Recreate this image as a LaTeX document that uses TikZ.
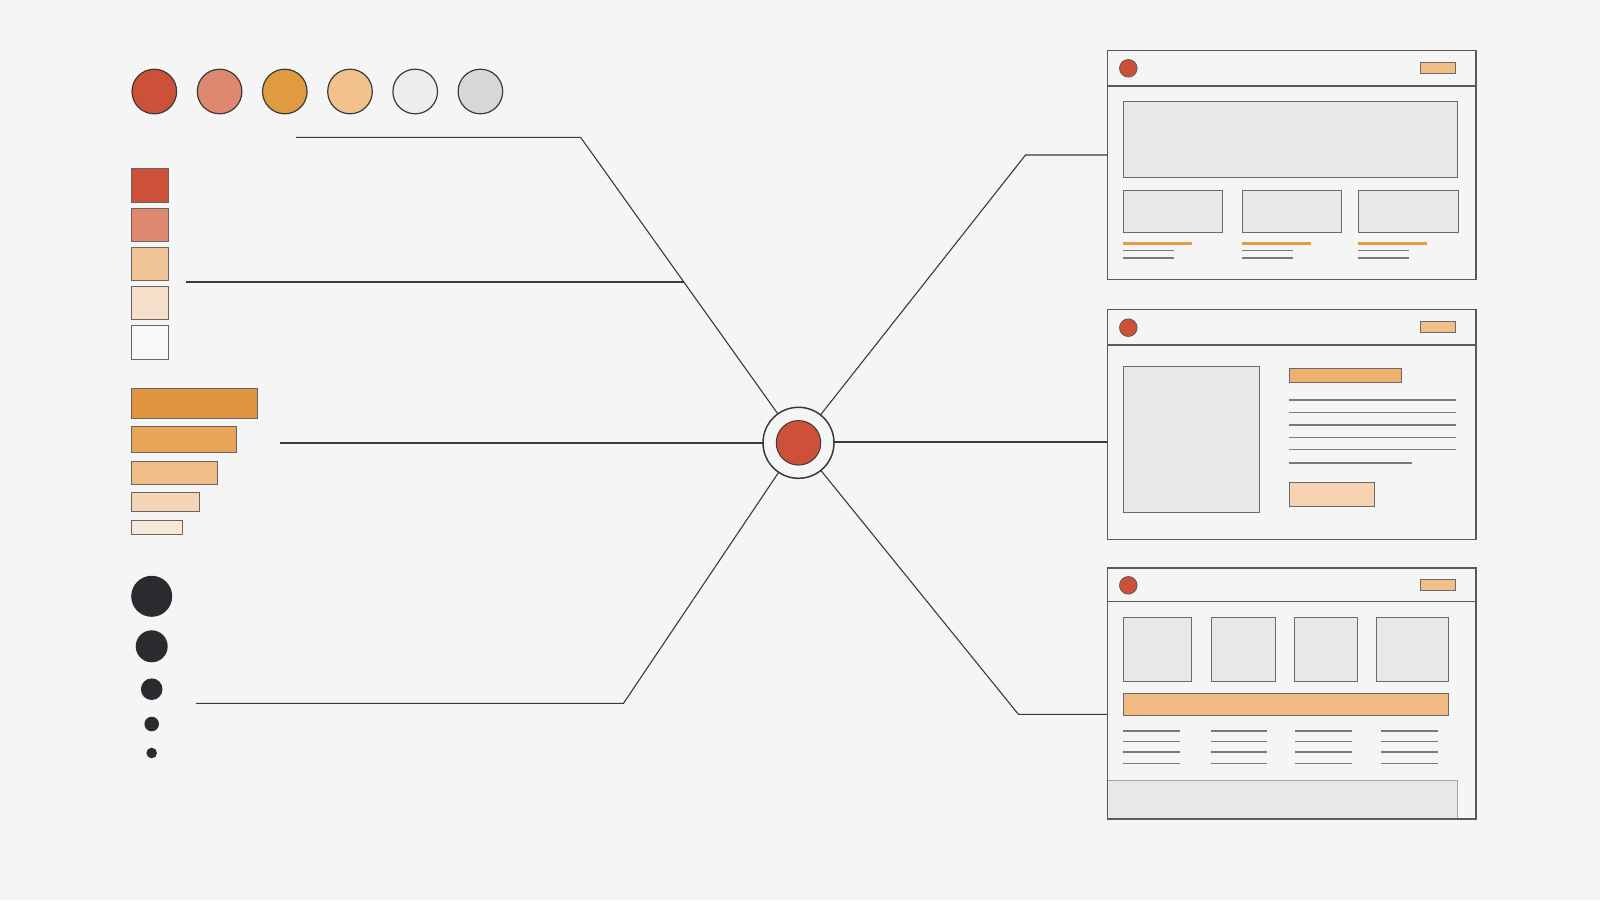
\documentclass[tikz,border=0pt]{standalone}
\usetikzlibrary{calc}
\definecolor{bg}{HTML}{F5F5F5}
\definecolor{cRed}{HTML}{CD5038}
\definecolor{cSalmon}{HTML}{DE8870}
\definecolor{cOchre}{HTML}{E09A40}
\definecolor{cPeach}{HTML}{F2C28E}
\definecolor{cLight}{HTML}{EDEDEC}
\definecolor{cGray}{HTML}{D8D7D6}
\definecolor{sqThree}{HTML}{F2C596}
\definecolor{sqFour}{HTML}{F6DFCA}
\definecolor{sqFive}{HTML}{F8F8F8}
\definecolor{barA}{HTML}{E0943F}
\definecolor{barB}{HTML}{E8A458}
\definecolor{barC}{HTML}{F0BD88}
\definecolor{barD}{HTML}{F5D5B5}
\definecolor{barE}{HTML}{F8E8DA}
\definecolor{dotc}{HTML}{2A2B2E}
\definecolor{linec}{HTML}{3A3A3A}
\definecolor{winedge}{HTML}{5A5A5A}
\definecolor{swedge}{HTML}{666666}
\definecolor{boxedge}{HTML}{6A6A6A}
\definecolor{boxfill}{HTML}{E8E8E8}
\definecolor{winfill}{HTML}{F5F5F5}
\definecolor{btnc}{HTML}{F0C088}
\definecolor{orline}{HTML}{E69A45}
\definecolor{ortitle}{HTML}{EDB070}
\definecolor{orbar}{HTML}{F0BA82}
\definecolor{btnlight}{HTML}{F5D3B0}
\definecolor{txtline}{HTML}{7A7A7A}
\tikzset{
  conn/.style={draw=linec, line width=1.1pt},
  swatch/.style={draw=swedge, line width=1pt},
  win/.style={draw=winedge, fill=winfill, line width=1.3pt, inner sep=0pt, outer sep=0pt, anchor=north west, rectangle},
  cbox/.style={draw=boxedge, fill=boxfill, line width=1pt},
  tline/.style={draw=txtline, line width=1.1pt},
  oline/.style={draw=orline, line width=3pt},
  reddot/.style={fill=cRed, draw=winedge, line width=0.8pt},
  btn/.style={fill=btnc, draw=boxedge, line width=1pt},
}
\begin{document}
\begin{tikzpicture}[x=1pt,y=-1pt]
\fill[bg] (0,0) rectangle (1600,900);
\useasboundingbox (0,0) rectangle (1600,900);

% ---------- palette circles ----------
\foreach \cx/\cc in {154.3/cRed,219.6/cSalmon,284.8/cOchre,350/cPeach,415.2/cLight,480.4/cGray}{
  \draw[fill=\cc, draw=linec, line width=1.2pt] (\cx,91.5) circle (22.3);
}
% ---------- squares ----------
\draw[swatch, fill=cRed] (131.3,168.3) rectangle (168,202.7);
\draw[swatch, fill=cSalmon] (131.3,208.3) rectangle (168,241.3);
\draw[swatch, fill=sqThree] (131.3,247) rectangle (168,280.3);
\draw[swatch, fill=sqFour] (131.3,286) rectangle (168,319.7);
\draw[swatch, fill=sqFive] (131.3,325) rectangle (168,359.7);
% ---------- bars ----------
\draw[swatch, fill=barA] (131.3,388.3) rectangle (257.7,418);
\draw[swatch, fill=barB] (131.3,426.3) rectangle (236,452.3);
\draw[swatch, fill=barC] (131.3,461) rectangle (217,484);
\draw[swatch, fill=barD] (131.3,492.7) rectangle (199.3,511.3);
\draw[swatch, fill=barE] (131.3,520) rectangle (182.7,534);
% ---------- dots ----------
\fill[dotc] (151.7,596.3) circle (20.5);
\fill[dotc] (151.7,646.3) circle (16);
\fill[dotc] (151.7,689.2) circle (10.8);
\fill[dotc] (151.7,724) circle (7.3);
\fill[dotc] (151.7,753) circle (5.3);

% ---------- hub ----------
\node[circle, draw=linec, fill=winfill, line width=1.5pt, minimum size=71pt, inner sep=0pt, outer sep=0pt] (hub) at (798.5,442.8) {};
\node[circle, draw=linec, fill=cRed, line width=1pt, minimum size=44.5pt, inner sep=0pt] (hubcore) at (hub.center) {};

% ---------- windows ----------
\node[win, minimum width=368.7pt, minimum height=228.6pt] (win1) at (1107.3,50.7) {};
\node[win, minimum width=368.7pt, minimum height=230pt] (win2) at (1107.3,309.3) {};
\node[win, minimum width=368.7pt, minimum height=251pt] (win3) at (1107.3,568) {};

% ---------- connector coordinates ----------
\coordinate (l1s) at (296,137.3);
\coordinate (l1b) at (580.6,137.3);
\coordinate (l2s) at (186.3,282);
\coordinate (l2e) at (683.6,282);
\coordinate (l3s) at (280,443);
\coordinate (l4s) at (196,703.3);
\coordinate (l4b) at (623.5,703.3);
\coordinate (r1b) at (1025.5,155);
\coordinate (r2e) at (1020,442);
\coordinate (r3b) at (1018.4,714.3);

\draw[conn] (l1s) -- (l1b) -- (hub);
\draw[conn] (l2s) -- (l2e);
\draw[conn] (l3s) -- (l3s -| hub.west);
\draw[conn] (l4s) -- (l4b) -- (hub);
\draw[conn] (hub) -- (r1b) -- (r1b -| win1.west);
\draw[conn] (hub.east |- r2e) -- (r2e -| win2.west);
\draw[conn] (hub) -- (r3b) -- (r3b -| win3.west);

% ---------- window 1 ----------
\draw[draw=winedge, line width=1.3pt] (1107.3,86) -- (1476,86);
\draw[reddot] (1128.3,68.3) circle (8.8);
\draw[btn] (1420.3,62.3) rectangle (1455.3,73.7);
\draw[cbox] (1123,101.3) rectangle (1457.7,177.3);
\foreach \xa/\xb in {1123/1222.7,1242/1341.7,1358.3/1458}{
  \draw[cbox] (\xa,190.7) rectangle (\xb,232.3);
  \draw[oline] (\xa,243) -- ++(69,0);
  \draw[tline] (\xa,250.3) -- ++(51,0);
  \draw[tline] (\xa,258) -- ++(51,0);
}
% ---------- window 2 ----------
\draw[draw=winedge, line width=1.3pt] (1107.3,345) -- (1476,345);
\draw[reddot] (1128.3,327.7) circle (8.8);
\draw[btn] (1420.3,321.3) rectangle (1455.3,332.7);
\draw[cbox] (1123,366.3) rectangle (1259.3,512.3);
\draw[fill=ortitle, draw=boxedge, line width=1pt] (1289,368.3) rectangle (1401,382.3);
\foreach \yy in {400,412.3,425,437.3,449.7}{
  \draw[tline] (1289.3,\yy) -- (1455.7,\yy);
}
\draw[tline] (1289.3,463) -- (1412,463);
\draw[fill=btnlight, draw=boxedge, line width=1pt] (1289.3,482.3) rectangle (1374,506.3);
% ---------- window 3 ----------
\draw[draw=winedge, line width=1.3pt] (1107.3,601.3) -- (1476,601.3);
\draw[reddot] (1128.3,585.3) circle (8.8);
\draw[btn] (1420.3,579.3) rectangle (1455.3,590.7);
\foreach \xa/\xb in {1123/1191,1211.3/1275.3,1294/1357.7,1376.3/1448.7}{
  \draw[cbox] (\xa,617.7) rectangle (\xb,681);
}
\draw[fill=orbar, draw=boxedge, line width=1pt] (1123,693) rectangle (1448.7,715.3);
\foreach \xa/\xb in {1123/1180,1210.7/1266.7,1295/1352.3,1381/1437.7}{
  \foreach \yy in {731,741.7,752,763.7}{
    \draw[tline] (\xa,\yy) -- (\xb,\yy);
  }
}
\draw[fill=boxfill, draw=gray!70, line width=1pt] (1107.3,780) rectangle (1457.3,819);
\draw[draw=winedge, line width=1.3pt] (win3.north west) rectangle (win3.south east);
\end{tikzpicture}
\end{document}
